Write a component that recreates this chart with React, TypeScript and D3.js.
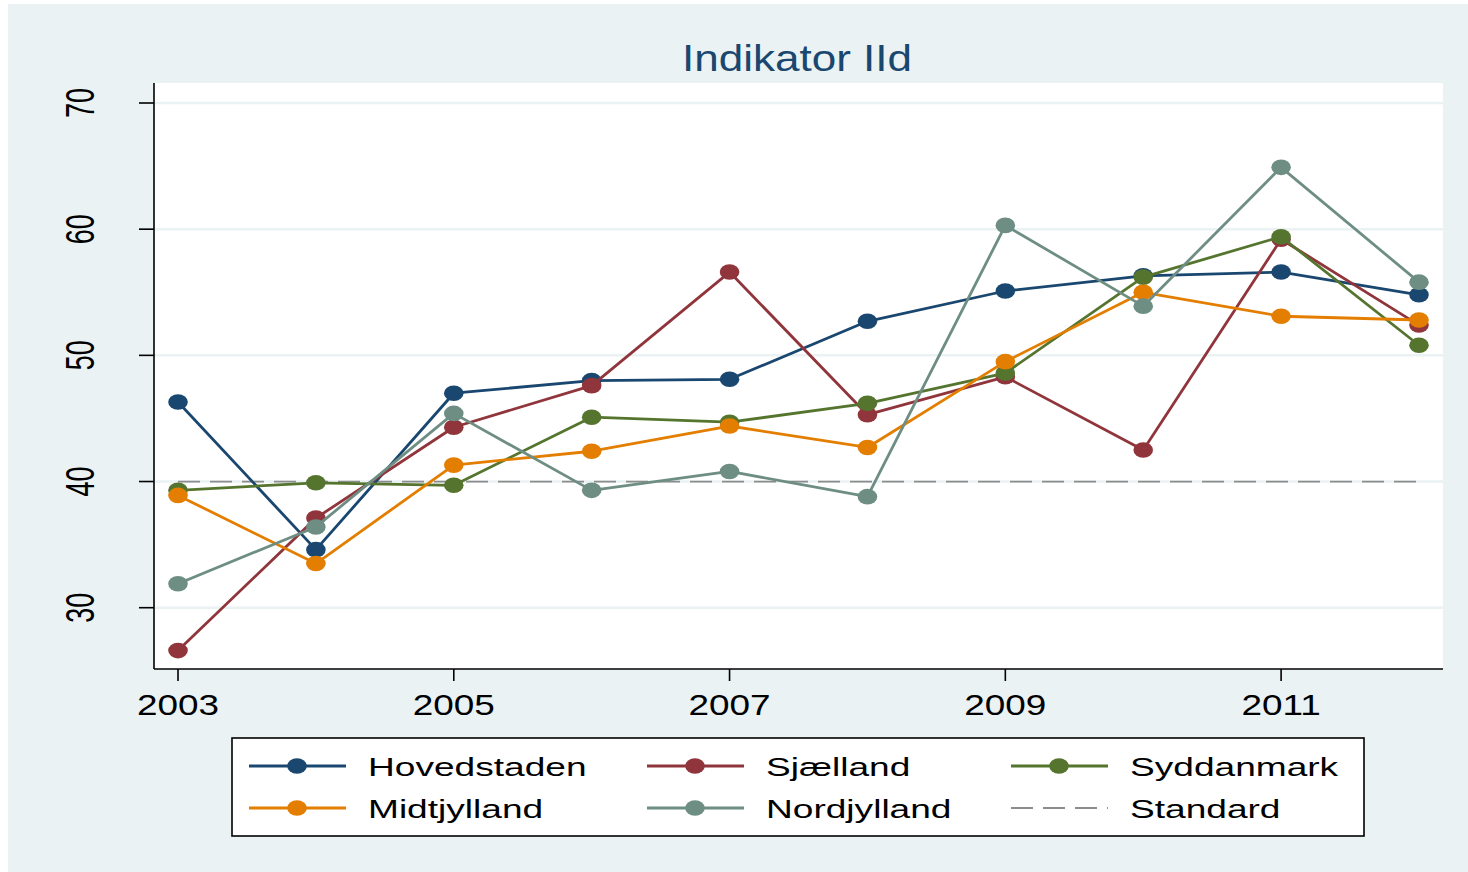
import React from 'react'
import * as d3 from 'd3'

const years = [2003, 2004, 2005, 2006, 2007, 2008, 2009, 2010, 2011, 2012]
const hovedstaden = [46.3, 34.6, 47.0, 48.0, 48.1, 52.7, 55.1, 56.3, 56.6, 54.8]
const sjaelland = [26.6, 37.1, 44.3, 47.6, 56.6, 45.3, 48.3, 42.5, 59.2, 52.4]
const syddanmark = [39.3, 39.9, 39.7, 45.1, 44.7, 46.2, 48.6, 56.2, 59.4, 50.8]
const midtjylland = [38.9, 33.5, 41.3, 42.4, 44.4, 42.7, 49.5, 55.0, 53.1, 52.8]
const nordjylland = [31.9, 36.4, 45.4, 39.3, 40.8, 38.8, 60.3, 53.9, 64.9, 55.8]
const standard = 40
const yTicks = [30, 40, 50, 60, 70]
const xTicks = [2003, 2005, 2007, 2009, 2011]

const series = [
  { name: 'Hovedstaden', values: hovedstaden, color: '#1a476f' },
  { name: 'Sjælland', values: sjaelland, color: '#90353b' },
  { name: 'Syddanmark', values: syddanmark, color: '#55752f' },
  { name: 'Midtjylland', values: midtjylland, color: '#e37e00' },
  { name: 'Nordjylland', values: nordjylland, color: '#6e8e84' },
]

const W = 1468
const H = 872
const bg = '#eaf2f3'
const font = '"Liberation Sans", Arial, sans-serif'
const plot = { left: 154, right: 1443, top: 83, bottom: 669 }

export default function App() {
  const x = d3.scaleLinear().domain([2003, 2012]).range([178, 1419])
  const y = d3.scaleLinear().domain([30, 70]).range([607.7, 103])

  const line = d3.line<number>()
    .x((d, i) => x(years[i]))
    .y((d) => y(d))

  // legend layout: 3 columns, 2 rows
  const legendItems = [
    ...series.map((s) => ({ name: s.name, color: s.color, dashed: false })),
    { name: 'Standard', color: '#8c8c8c', dashed: true },
  ]
  const colX = [249, 647, 1011]
  const rowY = [766, 808]

  return (
    <svg width={W} height={H} style={{ position: 'absolute', left: 0, top: 0 }}>
      <rect x={8} y={4} width={W - 8} height={H - 4} fill={bg} />
      <rect x={plot.left} y={plot.top} width={plot.right - plot.left} height={plot.bottom - plot.top} fill="#fff" />

      {/* grid */}
      {yTicks.map((t) => (
        <line key={'g' + t} x1={plot.left} x2={plot.right} y1={y(t)} y2={y(t)} stroke={bg} strokeWidth={2.5} />
      ))}

      {/* standard line */}
      <line x1={x(2003)} x2={x(2012)} y1={y(standard)} y2={y(standard)}
        stroke="#8c8c8c" strokeWidth={1.8} strokeDasharray="22 10" />

      {/* series */}
      {series.map((s) => (
        <g key={s.name}>
          <path d={line(s.values) || ''} fill="none" stroke={s.color} strokeWidth={2.8} strokeLinejoin="round" />
          {s.values.map((v, i) => (
            <ellipse key={i} cx={x(years[i])} cy={y(v)} rx={9.8} ry={7.8} fill={s.color} />
          ))}
        </g>
      ))}

      {/* axes */}
      <line x1={plot.left} x2={plot.left} y1={plot.top} y2={plot.bottom} stroke="#000" strokeWidth={1.6} />
      <line x1={plot.left} x2={plot.right} y1={plot.bottom} y2={plot.bottom} stroke="#000" strokeWidth={1.6} />
      {yTicks.map((t) => (
        <g key={'y' + t}>
          <line x1={plot.left - 15} x2={plot.left} y1={y(t)} y2={y(t)} stroke="#000" strokeWidth={1.6} />
          <text transform={`translate(94,${y(t)}) scale(1.5,1) rotate(-90)`} textAnchor="middle"
            fontFamily={font} fontSize={27} fill="#000">{t}</text>
        </g>
      ))}
      {xTicks.map((t) => (
        <g key={'x' + t}>
          <line x1={x(t)} x2={x(t)} y1={plot.bottom} y2={plot.bottom + 12} stroke="#000" strokeWidth={1.6} />
          <text transform={`translate(${x(t)},715) scale(1.23,1)`} textAnchor="middle"
            fontFamily={font} fontSize={30} fill="#000">{t}</text>
        </g>
      ))}

      {/* title */}
      <text transform="translate(797,71) scale(1.19,1)" textAnchor="middle" fontFamily={font}
        fontSize={37} fill="#1a476f">Indikator IId</text>

      {/* legend */}
      <rect x={232} y={738} width={1132} height={98} fill="#fff" stroke="#000" strokeWidth={1.6} />
      {legendItems.map((it, i) => {
        const cx = colX[i % 3]
        const cy = rowY[Math.floor(i / 3)]
        return (
          <g key={it.name}>
            <line x1={cx} x2={cx + 97} y1={cy} y2={cy} stroke={it.color}
              strokeWidth={it.dashed ? 1.8 : 2.8} strokeDasharray={it.dashed ? '22 10' : undefined} />
            {!it.dashed && <ellipse cx={cx + 48} cy={cy} rx={9.8} ry={7.8} fill={it.color} />}
            <text transform={`translate(${cx + 119},${cy + 10}) scale(1.4,1)`} fontFamily={font}
              fontSize={26.5} fill="#000">{it.name}</text>
          </g>
        )
      })}
    </svg>
  )
}
